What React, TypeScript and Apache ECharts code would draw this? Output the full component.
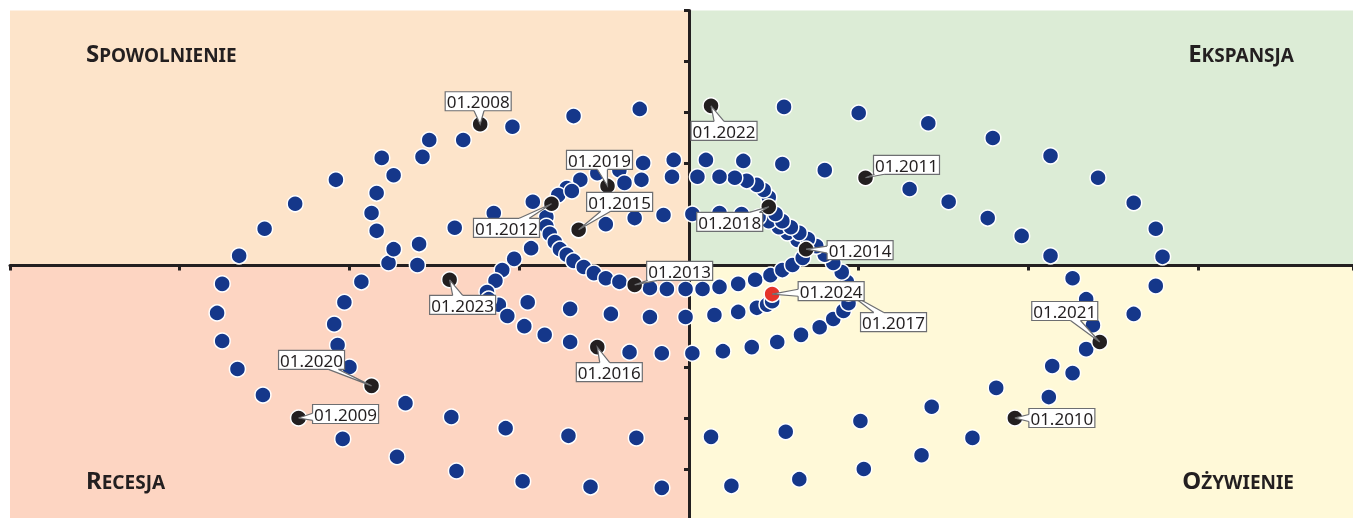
import React, { useEffect, useRef } from 'react';
import * as echarts from 'echarts';

// ---- data: monthly positions in the cycle clock, one array per year (January first) ----
const p2008: [number, number][] = [[-1.23, 2.77], [-1.53, 2.46], [-1.81, 2.11], [-2.08, 1.68], [-2.32, 1.21], [-2.50, 0.72], [-2.65, 0.19], [-2.75, -0.36], [-2.78, -0.93], [-2.75, -1.48], [-2.66, -2.03], [-2.51, -2.54]];
const p2009: [number, number][] = [[-2.30, -2.99], [-2.04, -3.40], [-1.72, -3.75], [-1.37, -4.03], [-0.98, -4.23], [-0.58, -4.34], [-0.16, -4.36], [0.25, -4.32], [0.65, -4.19], [1.03, -3.99], [1.37, -3.72], [1.67, -3.38]];
const p2010: [number, number][] = [[1.92, -2.99], [2.12, -2.58], [2.26, -2.11], [2.34, -1.64], [2.38, -1.17], [2.34, -0.66], [2.26, -0.25], [2.13, 0.19], [1.96, 0.58], [1.76, 0.93], [1.53, 1.25], [1.30, 1.50]];
const p2011: [number, number][] = [[1.04, 1.72], [0.80, 1.87], [0.55, 1.99], [0.32, 2.05], [0.10, 2.07], [-0.09, 2.07], [-0.27, 2.01], [-0.41, 1.87], [-0.54, 1.81], [-0.64, 1.68], [-0.72, 1.52], [-0.77, 1.38]];
const p2012: [number, number][] = [[-0.81, 1.21], [-0.84, 0.95], [-0.84, 0.77], [-0.82, 0.62], [-0.79, 0.46], [-0.76, 0.32], [-0.72, 0.21], [-0.68, 0.09], [-0.62, -0.03], [-0.56, -0.15], [-0.49, -0.25], [-0.41, -0.32]];
const p2013: [number, number][] = [[-0.32, -0.38], [-0.23, -0.44], [-0.13, -0.46], [-0.02, -0.46], [0.08, -0.46], [0.18, -0.42], [0.29, -0.36], [0.39, -0.28], [0.48, -0.19], [0.55, -0.09], [0.61, 0.01], [0.67, 0.15]];
const p2014: [number, number][] = [[0.69, 0.32], [0.64, 0.50], [0.58, 0.64], [0.53, 0.75], [0.47, 0.87], [0.41, 0.95], [0.31, 1.01], [0.18, 1.03], [0.02, 1.01], [-0.15, 0.99], [-0.32, 0.93], [-0.49, 0.81]];
const p2015: [number, number][] = [[-0.65, 0.70], [-0.93, 0.34], [-1.03, 0.13], [-1.10, -0.09], [-1.14, -0.30], [-1.19, -0.52], [-1.12, -0.77], [-1.07, -0.99], [-0.97, -1.19], [-0.85, -1.36], [-0.70, -1.50]];
const p2016: [number, number][] = [[-0.54, -1.60], [-0.35, -1.70], [-0.16, -1.72], [0.02, -1.72], [0.20, -1.68], [0.37, -1.60], [0.52, -1.50], [0.66, -1.36], [0.77, -1.21], [0.85, -1.05], [0.91, -0.89], [0.94, -0.74]];
const p2017: [number, number][] = [[0.94, -0.54], [0.93, -0.32], [0.90, -0.13], [0.85, 0.05], [0.80, 0.21], [0.75, 0.38], [0.70, 0.52], [0.65, 0.64], [0.60, 0.75], [0.55, 0.87], [0.51, 1.01]];
const p2018: [number, number][] = [[0.47, 1.15], [0.47, 1.34], [0.44, 1.48], [0.40, 1.58], [0.34, 1.66], [0.27, 1.72], [0.18, 1.74], [0.05, 1.74], [-0.10, 1.74], [-0.28, 1.68], [-0.38, 1.62]];
const p2019: [number, number][] = [[-0.48, 1.56], [-0.69, 1.46], [-0.92, 1.25], [-1.15, 1.03], [-1.38, 0.74], [-1.59, 0.42], [-1.77, 0.05], [-1.93, -0.32], [-2.03, -0.72], [-2.09, -1.15], [-2.07, -1.56], [-2.00, -1.99]];
const p2020: [number, number][] = [[-1.87, -2.36], [-1.67, -2.70], [-1.40, -2.97], [-1.08, -3.19], [-0.71, -3.34], [-0.31, -3.38], [0.13, -3.36], [0.57, -3.26], [1.01, -3.05], [1.43, -2.77], [1.81, -2.40], [2.14, -1.97]];
const p2021: [number, number][] = [[2.42, -1.50], [2.62, -0.95], [2.75, -0.40], [2.79, 0.17], [2.75, 0.72], [2.62, 1.23], [2.41, 1.72], [2.13, 2.15], [1.79, 2.50], [1.41, 2.79], [1.00, 2.99], [0.56, 3.11]];
const p2022: [number, number][] = [[0.13, 3.13], [-0.29, 3.07], [-0.68, 2.93], [-1.04, 2.72], [-1.33, 2.46], [-1.57, 2.13], [-1.74, 1.77], [-1.84, 1.42], [-1.87, 1.03], [-1.84, 0.68], [-1.74, 0.32], [-1.60, 0.01]];
const p2023: [number, number][] = [[-1.41, -0.28], [-1.18, -0.66], [-0.95, -0.72], [-0.70, -0.85], [-0.46, -0.95], [-0.23, -1.01], [-0.02, -1.01], [0.15, -0.97], [0.29, -0.91], [0.40, -0.83], [0.46, -0.77], [0.49, -0.70]];
const p2024: [number, number][] = [[0.49, -0.56]];

const years = ['2008', '2009', '2010', '2011', '2012', '2013', '2014', '2015', '2016', '2017', '2018', '2019', '2020', '2021', '2022', '2023', '2024'];
const yearPaths = [p2008, p2009, p2010, p2011, p2012, p2013, p2014, p2015, p2016, p2017, p2018, p2019, p2020, p2021, p2022, p2023, p2024];

const quadrantNames = ['Spowolnienie', 'Ekspansja', 'Recesja', 'Ożywienie'];

// axis extents (tick units)
const X_MIN = -4;
const X_MAX = 3.912;
const Y_MIN = -5;
const Y_MAX = 5;

// ---- styles / layout ----
const BLUE = '#15378a';
const BLACK = '#231f20';
const RED = '#e5332a';
const markerColors: Record<string, string> = { '01.2024': RED, '01.2017': BLUE };
const labelOffsets: Record<string, [number, number]> = {
  '01.2008': [-2, -23], '01.2009': [47, -4], '01.2010': [47, 0], '01.2011': [41, -13],
  '01.2012': [-45, 24], '01.2013': [45, -14], '01.2014': [54, 1], '01.2015': [41, -28],
  '01.2016': [12, 25], '01.2017': [45, 29], '01.2018': [-39, 15], '01.2019': [-8, -26],
  '01.2020': [-60, -26], '01.2021': [-35, -31], '01.2022': [13, 25], '01.2023': [13, 25],
  '01.2024': [59, -3],
};
const FONT = '"Noto Sans", "DejaVu Sans", sans-serif';
const BOX_W = 66;
const BOX_H = 19;

function smallCaps(word: string) {
  const up = word.toUpperCase();
  return '{a|' + up.charAt(0) + '}{b|' + up.slice(1) + '}';
}

export default function App() {
  const ref = useRef<HTMLDivElement>(null);

  useEffect(() => {
    if (!ref.current) return;
    const chart = echarts.init(ref.current, undefined, { renderer: 'svg' });

    const dots: any[] = [];
    const annotated: any[] = [];
    yearPaths.forEach((path, i) => {
      path.forEach((p, j) => {
        if (j === 0) {
          const name = '01.' + years[i];
          annotated.push({ value: p, name, itemStyle: { color: markerColors[name] || BLACK } });
        } else {
          dots.push({ value: p, itemStyle: { color: BLUE } });
        }
      });
    });

    const rich = {
      a: { fontSize: 24, lineHeight: 24, fontWeight: 'bold', fontFamily: FONT, fill: BLACK, color: BLACK, verticalAlign: 'bottom' },
      b: { fontSize: 19, lineHeight: 19, fontWeight: 'bold', fontFamily: FONT, fill: BLACK, color: BLACK, verticalAlign: 'bottom' },
    };
    const titlePos = [
      { x: 86, y: 64.5, align: 'left' },
      { x: 1294, y: 64.5, align: 'right' },
      { x: 86, y: 491.5, align: 'left' },
      { x: 1294, y: 491.5, align: 'right' },
    ];

    const renderCallout = (params: any, api: any) => {
      const item = annotated[params.dataIndex];
      const pt = api.coord([api.value(0), api.value(1)]);
      const off = labelOffsets[item.name] || [40, 0];
      const cx = pt[0] + off[0];
      const cy = pt[1] + off[1];
      const x0 = cx - BOX_W / 2;
      const y0 = cy - BOX_H / 2;
      const vx = pt[0] - cx;
      const vy = pt[1] - cy;
      let b1: number[];
      let b2: number[];
      let i1: number[];
      let i2: number[];
      if (Math.abs(vx) * (BOX_H / 2) > Math.abs(vy) * (BOX_W / 2)) {
        const sx = vx > 0 ? 1 : -1;
        const ex = cx + sx * BOX_W / 2;
        let ey = cy + vy * (BOX_W / 2) / Math.abs(vx);
        ey = Math.max(y0 + 4, Math.min(y0 + BOX_H - 4, ey));
        b1 = [ex, ey - 3.5];
        b2 = [ex, ey + 3.5];
        i1 = [ex - sx * 1.5, ey - 3.5];
        i2 = [ex - sx * 1.5, ey + 3.5];
      } else {
        const sy = vy > 0 ? 1 : -1;
        const ey = cy + sy * BOX_H / 2;
        let ex = cx + vx * (BOX_H / 2) / Math.abs(vy);
        ex = Math.max(x0 + 6, Math.min(x0 + BOX_W - 6, ex));
        b1 = [ex - 5, ey];
        b2 = [ex + 5, ey];
        i1 = [ex - 5, ey - sy * 1.5];
        i2 = [ex + 5, ey - sy * 1.5];
      }
      return {
        type: 'group',
        children: [
          { type: 'rect', shape: { x: x0, y: y0, width: BOX_W, height: BOX_H }, style: { fill: '#ffffff', stroke: '#6d6e71', lineWidth: 1.2 } },
          { type: 'polygon', shape: { points: [i1, b1, pt, b2, i2] }, style: { fill: '#ffffff', stroke: null } },
          { type: 'polyline', shape: { points: [b1, pt, b2] }, style: { fill: null, stroke: '#6d6e71', lineWidth: 1.2 } },
          { type: 'text', style: { x: cx, y: cy + 0.5, text: item.name, align: 'center', verticalAlign: 'middle', fontSize: 17, fontFamily: FONT, fill: BLACK } },
        ],
      };
    };

    chart.setOption({
      animation: false,
      grid: { left: 10, top: 10.5, width: 1343, height: 510, containLabel: false },
      xAxis: {
        type: 'value', min: X_MIN, max: X_MAX, interval: 1, z: 1,
        axisLine: { show: true, onZero: true, lineStyle: { color: BLACK, width: 3 } },
        axisTick: { show: true, length: 5, lineStyle: { color: BLACK, width: 3 } },
        axisLabel: { show: false }, splitLine: { show: false },
      },
      yAxis: {
        type: 'value', min: Y_MIN, max: Y_MAX, interval: 1, z: 1,
        axisLine: { show: true, onZero: true, lineStyle: { color: BLACK, width: 3 } },
        axisTick: { show: true, length: 5, lineStyle: { color: BLACK, width: 3 } },
        axisLabel: { show: false }, splitLine: { show: false },
      },
      graphic: quadrantNames.map((n, i) => ({
        type: 'text', z: 10,
        x: titlePos[i].x, y: titlePos[i].y,
        style: { text: smallCaps(n), rich, align: titlePos[i].align, verticalAlign: 'bottom', fill: BLACK, fontFamily: FONT, fontWeight: 'bold' },
      })),
      series: [
        {
          type: 'line', data: [], z: 0, silent: true,
          markArea: {
            silent: true,
            data: [
              [{ xAxis: X_MIN, yAxis: 0, itemStyle: { color: '#fde4ca' } }, { xAxis: 0, yAxis: Y_MAX }],
              [{ xAxis: 0, yAxis: 0, itemStyle: { color: '#dcecd6' } }, { xAxis: X_MAX, yAxis: Y_MAX }],
              [{ xAxis: X_MIN, yAxis: Y_MIN, itemStyle: { color: '#fdd5c2' } }, { xAxis: 0, yAxis: 0 }],
              [{ xAxis: 0, yAxis: Y_MIN, itemStyle: { color: '#fff9d8' } }, { xAxis: X_MAX, yAxis: 0 }],
            ],
          },
        },
        {
          type: 'scatter', z: 2, silent: true,
          symbolSize: 16,
          itemStyle: { borderColor: '#ffffff', borderWidth: 1.5, opacity: 1 },
          data: dots,
        },
        {
          type: 'scatter', z: 3, silent: true,
          symbolSize: 16,
          itemStyle: { borderColor: '#ffffff', borderWidth: 1.5, opacity: 1 },
          data: annotated.map((a) => ({ value: a.value, itemStyle: a.itemStyle })),
        },
        {
          type: 'custom', z: 4, silent: true, clip: false,
          renderItem: renderCallout,
          data: annotated.map((a) => a.value),
        },
      ],
    });

    return () => chart.dispose();
  }, []);

  return <div ref={ref} style={{ position: 'fixed', left: 0, top: 0, width: 1353, height: 521 }} />;
}
